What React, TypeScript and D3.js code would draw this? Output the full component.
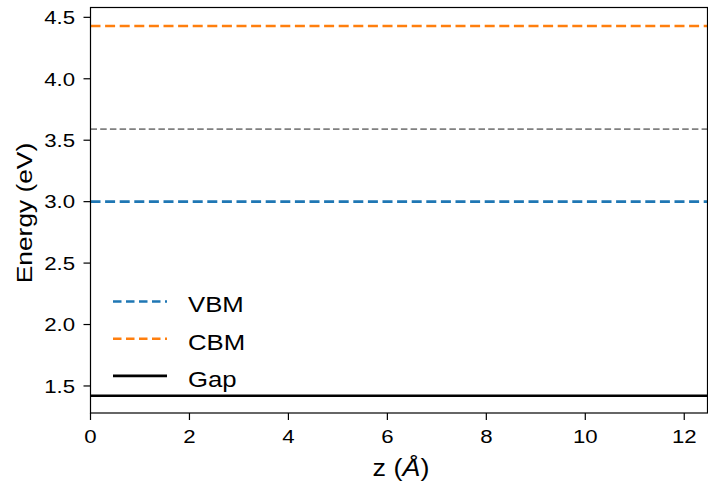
import React from "react";
import * as d3 from "d3";

const W = 708;
const H = 486;

const seriesNames = ["VBM", "CBM", "Gap"];
const seriesValues = [3.0, 4.43, 1.42];
const seriesColors = ["#1f77b4", "#ff7f0e", "#000000"];
const seriesDash = ["10,4.6", "10,4.6", ""];
const refLevel = 3.59;
const zRange = [0, 12.47];
const yTicks = [1.5, 2.0, 2.5, 3.0, 3.5, 4.0, 4.5];
const xTicks = [0, 2, 4, 6, 8, 10, 12];

const SX = 1.17;

export default function App() {
  const left = 90.5, right = 707.5, top = 7.5, bottom = 413;
  const x = d3.scaleLinear().domain(zRange).range([left, right]);
  const y = d3.scaleLinear().domain([1.28, 4.58]).range([bottom, top]);
  const font = "'Liberation Sans', Arial, sans-serif";
  const line = d3.line<[number, number]>().x(d => x(d[0])).y(d => y(d[1]));
  return (
    <div style={{ position: "fixed", left: 0, top: 0 }}>
      <svg width={W} height={H} style={{ display: "block", background: "#fff" }} fontFamily={font}>
        <path d={line([[zRange[0], refLevel], [zRange[1], refLevel]]) || ""} stroke="#808080" strokeWidth={1.7} strokeDasharray="6.5,3.2" fill="none" />
        {seriesNames.map((n, i) => (
          <path key={n} d={line([[zRange[0], seriesValues[i]], [zRange[1], seriesValues[i]]]) || ""}
            stroke={seriesColors[i]} strokeWidth={2.6} strokeDasharray={seriesDash[i] || undefined} fill="none" />
        ))}
        <rect x={left} y={top} width={right - left} height={bottom - top} fill="none" stroke="#000" strokeWidth={1.2} />
        {yTicks.map(t => (
          <g key={t}>
            <line x1={left} x2={left - 7} y1={y(t)} y2={y(t)} stroke="#000" strokeWidth={1.2} />
            <text transform={`translate(${left - 15.5},${y(t) + 6.8}) scale(${SX},1)`} textAnchor="end" fontSize={19}>{d3.format(".1f")(t)}</text>
          </g>
        ))}
        {xTicks.map(t => (
          <g key={t}>
            <line x1={x(t)} x2={x(t)} y1={bottom} y2={bottom + 7} stroke="#000" strokeWidth={1.2} />
            <text transform={`translate(${x(t)},443) scale(${SX},1)`} textAnchor="middle" fontSize={19}>{t}</text>
          </g>
        ))}
        <text transform={`translate(401,476) scale(${SX},1)`} textAnchor="middle" fontSize={23}>z (<tspan fontStyle="italic">Å</tspan>)</text>
        <text transform={`translate(31.7,213) rotate(-90) scale(${SX},1)`} textAnchor="middle" fontSize={22.5}>Energy (eV)</text>
        {seriesNames.map((n, i) => {
          const ly = 301.5 + i * 37.2;
          return (
            <g key={n}>
              <line x1={113} x2={167} y1={ly} y2={ly} stroke={seriesColors[i]} strokeWidth={2.6} strokeDasharray={seriesDash[i] ? "8.5,4.5" : undefined} />
              <text transform={`translate(188,${ly + 10.8}) scale(${SX},1)`} fontSize={22}>{n}</text>
            </g>
          );
        })}
      </svg>
    </div>
  );
}
